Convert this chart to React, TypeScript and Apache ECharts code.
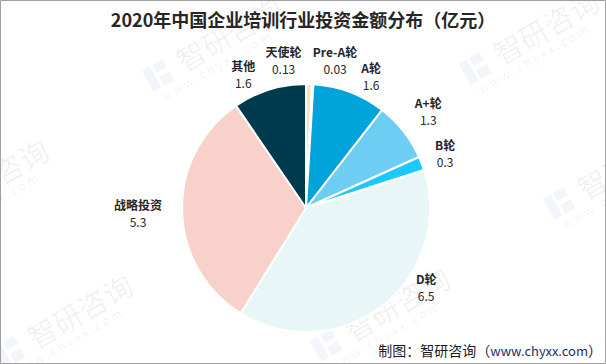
import React, { useEffect, useRef } from 'react';
import * as echarts from 'echarts';

const categories = ['天使轮', 'Pre-A轮', 'A轮', 'A+轮', 'B轮', 'D轮', '战略投资', '其他'];
const values = [0.13, 0.03, 1.6, 1.3, 0.3, 6.5, 5.3, 1.6];
const colors = ['#f4e2b8', '#dfeef5', '#00a3da', '#6dcdf3', '#1dc8fa', '#e9f6f7', '#f8d1ca', '#003a4f'];
const labelShift = [[-26, 0], [21, 0], [13, 7], [6, -5], [1, -2], [29, -38], [-20, 2], [-19, 7]];
const watermarkAnchors = [[159, 75], [243, 210], [560, 203], [327, 345], [476, 68], [-74, 217], [10, 352]];

const FONT = '"Noto Sans CJK SC", "Noto Sans", sans-serif';

function watermark(p: number[]) {
  return {
    type: 'group',
    x: p[0],
    y: p[1],
    rotation: Math.PI / 6,
    silent: true,
    z: 100,
    children: [
      { type: 'rect', shape: { x: -13, y: -12, width: 9, height: 24 }, style: { fill: 'rgba(90,140,200,0.08)' } },
      { type: 'rect', shape: { x: -1, y: -12, width: 12, height: 9 }, style: { fill: 'rgba(90,140,200,0.08)' } },
      { type: 'rect', shape: { x: -1, y: 2, width: 12, height: 10 }, style: { fill: 'rgba(120,120,120,0.07)' } },
      {
        type: 'text', x: 23, y: -2,
        style: { text: '智研咨询', fontSize: 29, fontFamily: FONT, fill: 'rgba(0,0,0,0.06)', verticalAlign: 'middle', align: 'left' },
      },
      {
        type: 'text', x: -8, y: 20,
        style: { text: 'w w w . c h y x x . c o m', fontSize: 12, fontFamily: FONT, fill: 'rgba(0,0,0,0.07)', verticalAlign: 'middle', align: 'left' },
      },
    ],
  };
}

export default function App() {
  const ref = useRef<HTMLDivElement>(null);
  useEffect(() => {
    if (!ref.current) return;
    const chart = echarts.init(ref.current, undefined, { renderer: 'svg' });
    const center = [306, 208];
    chart.setOption({
      animation: false,
      backgroundColor: '#ffffff',
      title: {
        text: '2020年中国企业培训行业投资金额分布（亿元）',
        left: 'center',
        top: 5,
        textStyle: { fontSize: 18, fontWeight: 'bold', color: '#262626', fontFamily: FONT },
      },
      series: [
        {
          type: 'pie',
          center,
          radius: 124,
          startAngle: 90,
          clockwise: true,
          silent: true,
          avoidLabelOverlap: false,
          data: categories.map((n, i) => ({ name: n, value: values[i], itemStyle: { color: colors[i] } })),
          itemStyle: { borderColor: '#ffffff', borderWidth: 2 },
          label: { show: false },
          labelLine: { show: false },
          emphasis: { disabled: true },
        },
        {
          type: 'pie',
          center,
          radius: [135, 155],
          startAngle: 90,
          clockwise: true,
          silent: true,
          avoidLabelOverlap: false,
          data: categories.map((n, i) => ({ name: n, value: values[i] })),
          itemStyle: { color: 'rgba(0,0,0,0)', borderWidth: 0 },
          label: {
            show: true,
            position: 'inside',
            formatter: '{n|{b}}\n{v|{c}}',
            rich: {
              n: { fontSize: 12, fontWeight: 'bold', color: '#262626', lineHeight: 17, align: 'center', fontFamily: FONT },
              v: { fontSize: 12, color: '#262626', lineHeight: 17, align: 'center', fontFamily: FONT },
            },
          },
          labelLine: { show: false },
          labelLayout: (p: any) => ({ dx: labelShift[p.dataIndex][0], dy: labelShift[p.dataIndex][1] }),
          emphasis: { disabled: true },
        },
      ],
      graphic: [
        ...watermarkAnchors.map(watermark),
        {
          type: 'text',
          x: 602,
          y: 350,
          z: 110,
          silent: true,
          style: {
            text: '{a|制图：智研咨询（}{b|www.chyxx.com}{a|）}',
            align: 'right',
            verticalAlign: 'middle',
            rich: {
              a: { fontSize: 14, fill: '#1a1a1a', color: '#1a1a1a', fontFamily: FONT },
              b: { fontSize: 13, fill: '#1a2f6b', color: '#1a2f6b', fontFamily: FONT },
            },
          },
        },
        {
          type: 'rect',
          z: 120,
          silent: true,
          shape: { x: 0.5, y: 0.5, width: 605, height: 363 },
          style: { fill: 'none', stroke: '#a0a0a0', lineWidth: 1 },
        },
      ],
    });
    return () => chart.dispose();
  }, []);
  return <div ref={ref} style={{ position: 'fixed', left: 0, top: 0, width: 606, height: 364 }} />;
}
